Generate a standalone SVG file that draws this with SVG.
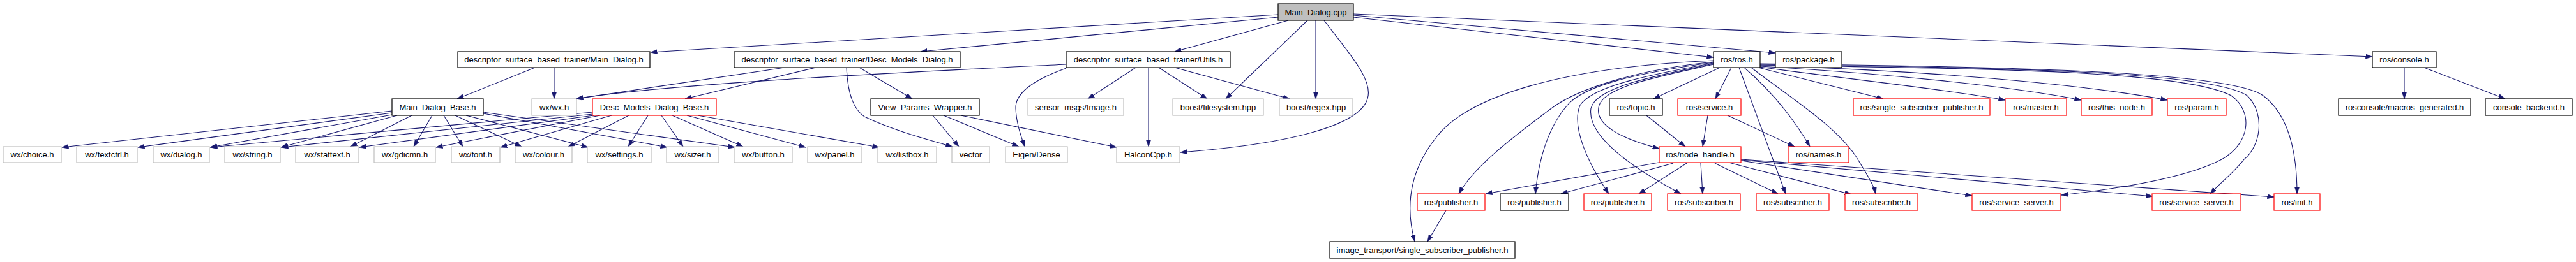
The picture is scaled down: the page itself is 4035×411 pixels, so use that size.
<svg xmlns="http://www.w3.org/2000/svg" width="4035" height="411" viewBox="0 0 4035 411">
<style>
text{font-family:"Liberation Sans",Arial,Helvetica,sans-serif;font-size:13px;fill:#000;text-anchor:middle}
rect{fill:#fff;stroke-width:1.2}
.k rect{stroke:#000}
.g rect{stroke:#bfbfbf}
.r rect{stroke:#ff0000}
.m rect{fill:#bfbfbf;stroke:#000}
#edges path{fill:none;stroke:#191970;stroke-width:1.1;marker-end:url(#ah)}
</style>
<defs>
<marker id="ah" markerUnits="userSpaceOnUse" markerWidth="11" markerHeight="8" refX="10.5" refY="4" orient="auto">
<path d="M0,0.3 L10.5,4 L0,7.7 z" fill="#191970" stroke="#191970" stroke-width="0.5"/>
</marker>
</defs>
<rect x="0" y="0" width="4035" height="411" style="fill:#fff;stroke:none"/>
<g id="edges">
<path d="M2002,23 L1019,82"/>
<path d="M2002,27 L1442,81"/>
<path d="M2018,32 L1840,81"/>
<path d="M2048,32 L1920,155"/>
<path d="M2061,32 L2061,155"/>
<path d="M2074,32 C2110,80 2152,125 2142,155 C2130,195 2030,225 1849,239"/>
<path d="M2120,27 L2684,90"/>
<path d="M2120,24 L2781,83"/>
<path d="M2120,22 L3716,89"/>
<path d="M838,106 L716,155"/>
<path d="M868,106 L868,155"/>
<path d="M1229,106 L902,155"/>
<path d="M1278,106 L1073,155"/>
<path d="M1346,106 L1429,155"/>
<path d="M1326,106 C1328,150 1338,172 1354,183 C1400,205 1450,218 1492,230"/>
<path d="M1670,101 C1450,112 1050,130 903,155"/>
<path d="M1670,107 C1620,125 1590,145 1591,170 C1592,195 1600,215 1605,230"/>
<path d="M1779,106 L1704,155"/>
<path d="M1799,106 L1799,230"/>
<path d="M1815,106 L1891,155"/>
<path d="M1840,106 L2020,155"/>
<path d="M1461,181 L1502,230"/>
<path d="M1478,181 L1596,230"/>
<path d="M1505,181 L1749,231"/>
<path d="M614,174 L97,231"/>
<path d="M614,177 L216,231"/>
<path d="M614,180 L329,231"/>
<path d="M622,181 L440,231"/>
<path d="M645,181 L549,230"/>
<path d="M677,181 L648,230"/>
<path d="M695,181 L725,230"/>
<path d="M713,181 L817,230"/>
<path d="M730,181 L921,231"/>
<path d="M757,178 L1045,231"/>
<path d="M757,176 L1151,231"/>
<path d="M928,176 L330,231"/>
<path d="M928,179 L441,231"/>
<path d="M930,181 L563,231"/>
<path d="M940,181 L683,231"/>
<path d="M958,181 L784,231"/>
<path d="M985,181 L890,230"/>
<path d="M1015,181 L984,230"/>
<path d="M1036,181 L1070,230"/>
<path d="M1053,181 L1164,230"/>
<path d="M1076,181 L1262,231"/>
<path d="M1093,181 L1377,231"/>
<path d="M2684,95 C2450,105 2300,150 2250,215 C2210,265 2200,320 2216,379"/>
<path d="M2684,97 C2560,110 2470,140 2430,170 C2370,215 2310,260 2285,304"/>
<path d="M2684,98 C2560,115 2480,135 2455,165 C2425,200 2410,250 2405,304"/>
<path d="M2684,99 C2580,118 2495,135 2475,165 C2460,200 2490,260 2520,304"/>
<path d="M2684,100 C2600,118 2500,135 2492,170 C2485,215 2560,265 2633,304"/>
<path d="M2684,101 C2600,120 2515,135 2505,165 C2495,195 2540,218 2599,233"/>
<path d="M2694,106 L2590,155"/>
<path d="M2712,106 L2687,155"/>
<path d="M2724,106 L2797,304"/>
<path d="M2732,106 C2760,130 2800,170 2835,230"/>
<path d="M2743,106 C2800,150 2880,200 2910,250 C2925,275 2935,290 2938,304"/>
<path d="M2754,106 L2950,155"/>
<path d="M2756,105 C2900,125 3050,140 3141,157"/>
<path d="M2757,104 C2950,115 3150,135 3260,157"/>
<path d="M2757,103 C3000,110 3250,130 3395,157"/>
<path d="M2757,102 C3100,108 3420,110 3495,150 C3530,175 3525,225 3480,250 C3420,282 3300,298 3229,306"/>
<path d="M2757,101 C3100,106 3460,110 3520,150 C3550,180 3540,230 3515,250 C3500,270 3480,285 3462,304"/>
<path d="M2757,100 C3100,104 3490,110 3545,150 C3585,180 3598,240 3598,304"/>
<path d="M2579,181 L2640,230"/>
<path d="M2675,181 L2667,230"/>
<path d="M2706,181 L2811,230"/>
<path d="M2598,255 L2327,304"/>
<path d="M2621,256 L2445,304"/>
<path d="M2642,256 L2567,304"/>
<path d="M2664,256 L2667,304"/>
<path d="M2686,256 L2785,304"/>
<path d="M2708,255 L2900,305"/>
<path d="M2727,252 L3089,307"/>
<path d="M2727,251 L3372,308"/>
<path d="M2727,250 L3562,309"/>
<path d="M2265,330 L2236,379"/>
<path d="M3766,106 L3766,155"/>
<path d="M3797,106 L3924,155"/>
</g>
<g id="n_cpp" class="m"><rect x="2002" y="6" width="118" height="26"/><text x="2061" y="23.5">Main_Dialog.cpp</text></g>
<g id="n_main_dialog" class="k"><rect x="717" y="81" width="301" height="25"/><text x="867.5" y="98">descriptor_surface_based_trainer/Main_Dialog.h</text></g>
<g id="n_desc_models_dialog" class="k"><rect x="1150" y="81" width="354" height="25"/><text x="1327" y="98">descriptor_surface_based_trainer/Desc_Models_Dialog.h</text></g>
<g id="n_utils" class="k"><rect x="1670" y="81" width="257" height="25"/><text x="1798.5" y="98">descriptor_surface_based_trainer/Utils.h</text></g>
<g id="n_ros" class="k"><rect x="2684" y="81" width="73" height="25"/><text x="2720.5" y="98">ros/ros.h</text></g>
<g id="n_package" class="k"><rect x="2781" y="81" width="104" height="25"/><text x="2833" y="98">ros/package.h</text></g>
<g id="n_console" class="k"><rect x="3716" y="81" width="100" height="25"/><text x="3766" y="98">ros/console.h</text></g>
<g id="n_main_dialog_base" class="k"><rect x="614" y="155" width="143" height="26"/><text x="685.5" y="172.5">Main_Dialog_Base.h</text></g>
<g id="n_wx" class="g"><rect x="833" y="155" width="70" height="26"/><text x="868" y="172.5">wx/wx.h</text></g>
<g id="n_desc_models_dialog_base" class="r"><rect x="928" y="155" width="194" height="26"/><text x="1025" y="172.5">Desc_Models_Dialog_Base.h</text></g>
<g id="n_view_params" class="k"><rect x="1364" y="155" width="170" height="26"/><text x="1449" y="172.5">View_Params_Wrapper.h</text></g>
<g id="n_sensor_image" class="g"><rect x="1610" y="155" width="150" height="26"/><text x="1685" y="172.5">sensor_msgs/Image.h</text></g>
<g id="n_filesystem" class="g"><rect x="1837" y="155" width="142" height="26"/><text x="1908" y="172.5">boost/filesystem.hpp</text></g>
<g id="n_regex" class="g"><rect x="2004" y="155" width="115" height="26"/><text x="2061.5" y="172.5">boost/regex.hpp</text></g>
<g id="n_topic" class="k"><rect x="2521" y="155" width="83" height="26"/><text x="2562.5" y="172.5">ros/topic.h</text></g>
<g id="n_service" class="r"><rect x="2628" y="155" width="99" height="26"/><text x="2677.5" y="172.5">ros/service.h</text></g>
<g id="n_ssp" class="r"><rect x="2903" y="155" width="214" height="26"/><text x="3010" y="172.5">ros/single_subscriber_publisher.h</text></g>
<g id="n_master" class="r"><rect x="3141" y="155" width="96" height="26"/><text x="3189" y="172.5">ros/master.h</text></g>
<g id="n_this_node" class="r"><rect x="3260" y="155" width="111" height="26"/><text x="3315.5" y="172.5">ros/this_node.h</text></g>
<g id="n_param" class="r"><rect x="3395" y="155" width="92" height="26"/><text x="3441" y="172.5">ros/param.h</text></g>
<g id="n_macros" class="k"><rect x="3663" y="155" width="207" height="26"/><text x="3766.5" y="172.5">rosconsole/macros_generated.h</text></g>
<g id="n_backend" class="k"><rect x="3893" y="155" width="136" height="26"/><text x="3961" y="172.5">console_backend.h</text></g>
<g id="n_choice" class="g"><rect x="5" y="230" width="91" height="25"/><text x="50.5" y="247">wx/choice.h</text></g>
<g id="n_textctrl" class="g"><rect x="120" y="230" width="95" height="25"/><text x="167.5" y="247">wx/textctrl.h</text></g>
<g id="n_dialog" class="g"><rect x="240" y="230" width="88" height="25"/><text x="284" y="247">wx/dialog.h</text></g>
<g id="n_string" class="g"><rect x="352" y="230" width="87" height="25"/><text x="395.5" y="247">wx/string.h</text></g>
<g id="n_stattext" class="g"><rect x="463" y="230" width="99" height="25"/><text x="512.5" y="247">wx/stattext.h</text></g>
<g id="n_gdicmn" class="g"><rect x="586" y="230" width="96" height="25"/><text x="634" y="247">wx/gdicmn.h</text></g>
<g id="n_font" class="g"><rect x="707" y="230" width="76" height="25"/><text x="745" y="247">wx/font.h</text></g>
<g id="n_colour" class="g"><rect x="807" y="230" width="89" height="25"/><text x="851.5" y="247">wx/colour.h</text></g>
<g id="n_settings" class="g"><rect x="920" y="230" width="100" height="25"/><text x="970" y="247">wx/settings.h</text></g>
<g id="n_sizer" class="g"><rect x="1044" y="230" width="82" height="25"/><text x="1085" y="247">wx/sizer.h</text></g>
<g id="n_button" class="g"><rect x="1150" y="230" width="91" height="25"/><text x="1195.5" y="247">wx/button.h</text></g>
<g id="n_panel" class="g"><rect x="1265" y="230" width="85" height="25"/><text x="1307.5" y="247">wx/panel.h</text></g>
<g id="n_listbox" class="g"><rect x="1375" y="230" width="92" height="25"/><text x="1421" y="247">wx/listbox.h</text></g>
<g id="n_vector" class="g"><rect x="1491" y="230" width="59" height="25"/><text x="1520.5" y="247">vector</text></g>
<g id="n_eigen" class="g"><rect x="1575" y="230" width="97" height="25"/><text x="1623.5" y="247">Eigen/Dense</text></g>
<g id="n_halcon" class="g"><rect x="1749" y="230" width="99" height="25"/><text x="1798.5" y="247">HalconCpp.h</text></g>
<g id="n_node_handle" class="r"><rect x="2599" y="230" width="128" height="25"/><text x="2663" y="247">ros/node_handle.h</text></g>
<g id="n_names" class="r"><rect x="2801" y="230" width="95" height="25"/><text x="2848.5" y="247">ros/names.h</text></g>
<g id="n_pub1" class="r"><rect x="2220" y="304" width="106" height="26"/><text x="2273" y="321.5">ros/publisher.h</text></g>
<g id="n_pub2" class="k"><rect x="2350" y="304" width="107" height="26"/><text x="2403.5" y="321.5">ros/publisher.h</text></g>
<g id="n_pub3" class="r"><rect x="2481" y="304" width="106" height="26"/><text x="2534" y="321.5">ros/publisher.h</text></g>
<g id="n_sub1" class="r"><rect x="2612" y="304" width="114" height="26"/><text x="2669" y="321.5">ros/subscriber.h</text></g>
<g id="n_sub2" class="r"><rect x="2751" y="304" width="114" height="26"/><text x="2808" y="321.5">ros/subscriber.h</text></g>
<g id="n_sub3" class="r"><rect x="2890" y="304" width="114" height="26"/><text x="2947" y="321.5">ros/subscriber.h</text></g>
<g id="n_ss1" class="r"><rect x="3089" y="304" width="139" height="26"/><text x="3158.5" y="321.5">ros/service_server.h</text></g>
<g id="n_ss2" class="r"><rect x="3371" y="304" width="139" height="26"/><text x="3440.5" y="321.5">ros/service_server.h</text></g>
<g id="n_init" class="r"><rect x="3562" y="304" width="72" height="26"/><text x="3598" y="321.5">ros/init.h</text></g>
<g id="n_it_ssp" class="k"><rect x="2083" y="379" width="290" height="26"/><text x="2228" y="396.5">image_transport/single_subscriber_publisher.h</text></g>
</svg>
